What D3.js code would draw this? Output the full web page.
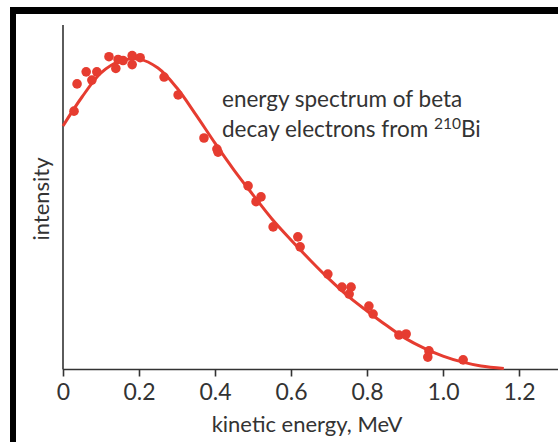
<!DOCTYPE html>
<html>
<head>
<meta charset="utf-8">
<script src="https://cdn.jsdelivr.net/npm/d3@7/dist/d3.min.js"></script>
<style>
  html, body { margin: 0; padding: 0; background: #fff; }
  svg { display: block; }
  text { font-family: Lato, "Open Sans", sans-serif; fill: #333; }
</style>
</head>
<body>
<svg id="chart" width="558" height="442"></svg>
<script>
// Measured points (kinetic energy in MeV, intensity in arbitrary units)
const pointEnergy = [0.029, 0.037, 0.061, 0.076, 0.089, 0.121, 0.139, 0.145, 0.158, 0.182, 0.182, 0.203,
  0.266, 0.303, 0.371, 0.405, 0.408, 0.487, 0.508, 0.521, 0.553, 0.618, 0.624, 0.697,
  0.734, 0.758, 0.753, 0.805, 0.816, 0.884, 0.903, 0.963, 0.960, 1.053];
const pointIntensity = [75.0, 82.9, 86.4, 84.0, 86.4, 90.8, 87.4, 90.0, 89.7, 91.1, 88.5, 90.5,
  84.9, 79.7, 67.2, 64.0, 63.1, 53.3, 48.7, 50.1, 41.4, 38.5, 35.6, 27.7,
  23.9, 23.9, 21.9, 18.4, 16.1, 10.0, 10.3, 5.4, 3.6, 2.8];

// Fitted curve
const curveEnergy = [0, 0.05, 0.10, 0.15, 0.20, 0.25, 0.30, 0.35, 0.40, 0.45, 0.50, 0.55, 0.60,
  0.65, 0.70, 0.75, 0.80, 0.85, 0.90, 0.95, 1.00, 1.05, 1.10, 1.16];
const curveIntensity = [70.7, 79.1, 86.1, 89.5, 90.1, 87.5, 81.7, 73.9, 65.7, 57.9, 50.7, 43.7, 37.6,
  31.8, 26.3, 21.3, 17.0, 12.9, 9.1, 6.2, 3.9, 2.2, 1.0, 0.3];

const xTicks = [0, 0.2, 0.4, 0.6, 0.8, 1.0, 1.2];
const xTickLabels = ["0", "0.2", "0.4", "0.6", "0.8", "1.0", "1.2"];
const xTitle = "kinetic energy, MeV";
const yTitle = "intensity";
const noteLine1 = "energy spectrum of beta";
const noteLine2 = "decay electrons from ";
const noteSup = "210";
const noteEnd = "Bi";

const red = "#e63c30";
const svg = d3.select("#chart");

// frame
svg.append("rect").attr("x", 10).attr("y", 7).attr("width", 548).attr("height", 435).attr("fill", "#000");
svg.append("rect").attr("x", 16).attr("y", 14).attr("width", 542).attr("height", 428).attr("fill", "#fff");

const x = d3.scaleLinear().domain([0, 1.2]).range([63, 519]);
const y = d3.scaleLinear().domain([0, 100]).range([369.5, 25]);

// axes
const xAxis = svg.append("g").attr("transform", "translate(0,369.5)")
  .call(d3.axisBottom(x).tickValues(xTicks).tickFormat((d, i) => xTickLabels[i]).tickSize(7).tickSizeOuter(0).tickPadding(7));
xAxis.select(".domain").attr("d", `M${x(0)},0H558`);
xAxis.selectAll("line, path").attr("stroke", "#333").attr("stroke-width", 1.6);
xAxis.selectAll("text").style("font-family", "Lato, sans-serif").attr("font-size", 23).attr("fill", "#444");

svg.append("line").attr("x1", x(0)).attr("x2", x(0)).attr("y1", 25).attr("y2", 369.5)
  .attr("stroke", "#333").attr("stroke-width", 1.6);

// titles
svg.append("text").attr("x", 307).attr("y", 432).attr("text-anchor", "middle")
  .attr("font-size", 22).text(xTitle);
svg.append("text").attr("transform", "translate(49,199) rotate(-90)").attr("text-anchor", "middle")
  .attr("font-size", 22).text(yTitle);

// curve
const line = d3.line().x((d, i) => x(curveEnergy[i])).y((d, i) => y(curveIntensity[i])).curve(d3.curveCatmullRom.alpha(0.5));
svg.append("path").datum(curveEnergy).attr("d", line).attr("fill", "none").attr("stroke", red).attr("stroke-width", 3);

// points
svg.append("g").selectAll("circle").data(pointEnergy).join("circle")
  .attr("cx", (d) => x(d)).attr("cy", (d, i) => y(pointIntensity[i])).attr("r", 4.8).attr("fill", red);

// annotation
svg.append("text").attr("x", 222).attr("y", 107).attr("font-size", 22.5).text(noteLine1);
const t2 = svg.append("text").attr("x", 222).attr("y", 137).attr("font-size", 22.5);
t2.append("tspan").text(noteLine2);
t2.append("tspan").attr("font-size", 15.5).attr("dy", -8).text(noteSup);
t2.append("tspan").attr("dy", 8).text(noteEnd);
</script>
</body>
</html>
